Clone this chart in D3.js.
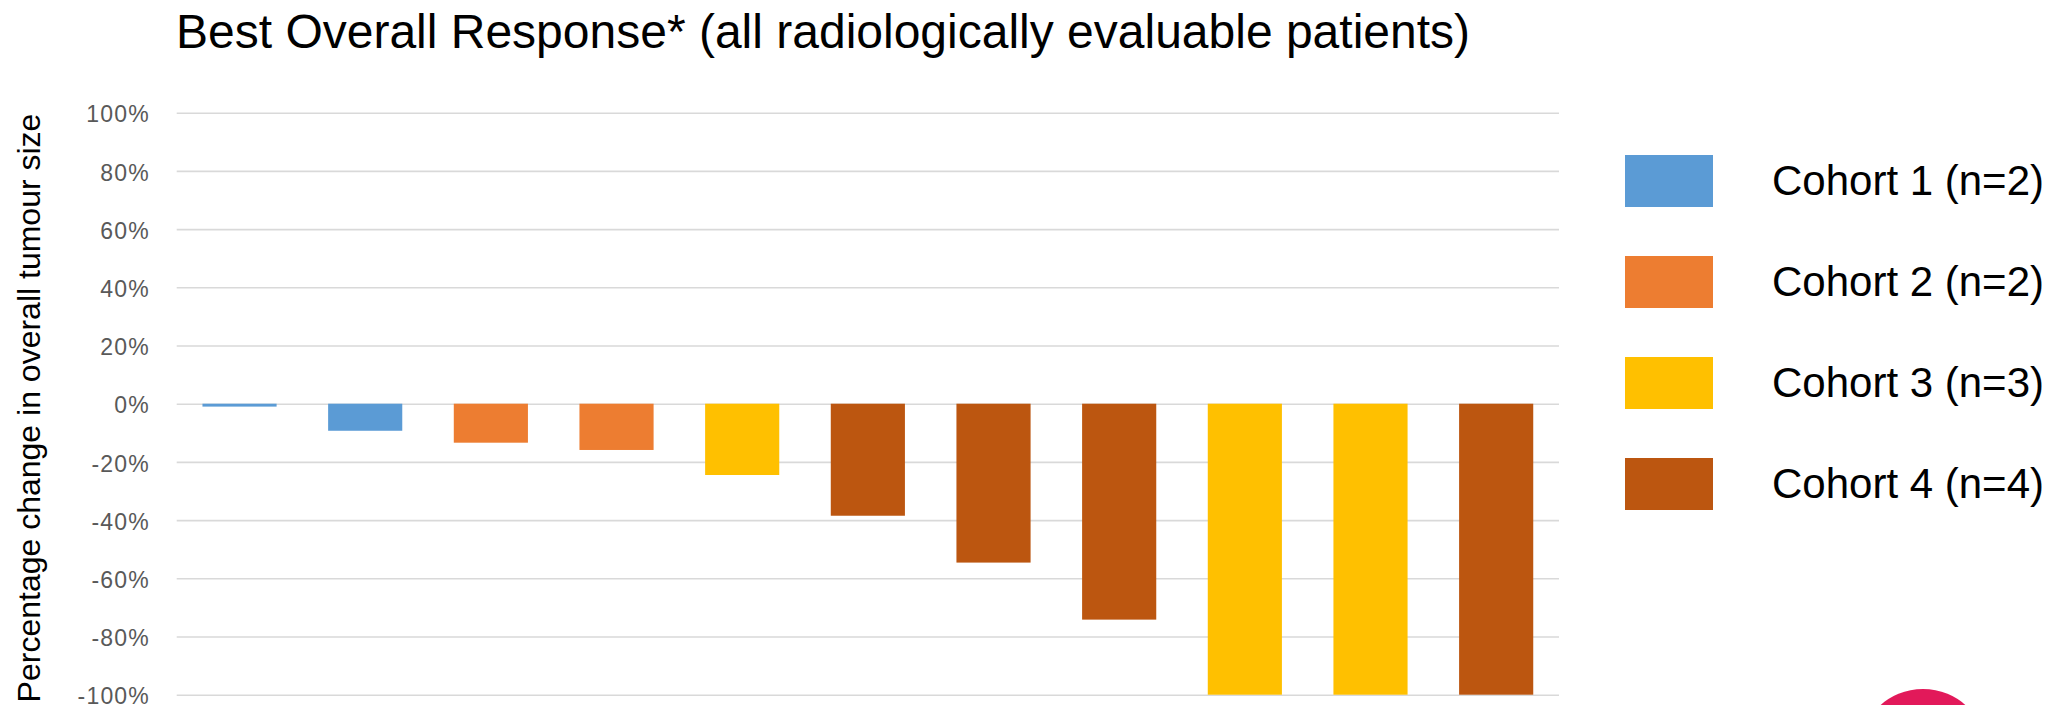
<!DOCTYPE html>
<html>
<head>
<meta charset="utf-8">
<script src="https://cdn.jsdelivr.net/npm/d3@7"></script>
<style>
  html, body { margin: 0; padding: 0; background: #fff; }
  svg { display: block; }
</style>
</head>
<body>
<svg id="chart" width="2069" height="705"></svg>
<script>
// Daten: Patienten (Reihenfolge wie im Bild) und ihre Kohorte
const patients = ["P1", "P2", "P3", "P4", "P5", "P6", "P7", "P8", "P9", "P10", "P11"];
const changes = [-0.01, -0.093, -0.134, -0.159, -0.245, -0.385, -0.546, -0.742, -1.0, -1.0, -1.0];
const cohortOf = [0, 0, 1, 1, 2, 3, 3, 3, 2, 2, 3];

const cohorts = ["Cohort 1 (n=2)", "Cohort 2 (n=2)", "Cohort 3 (n=3)", "Cohort 4 (n=4)"];
const cohortColors = ["#5B9BD5", "#ED7D31", "#FFC000", "#BC5610"];

const yTicks = [-1, -0.8, -0.6, -0.4, -0.2, 0, 0.2, 0.4, 0.6, 0.8, 1];

const svg = d3.select("#chart");
const font = "'Liberation Sans', Arial, sans-serif";

// Skalen
const left = 176.7, right = 1559;
const x = d3.scaleBand()
  .domain(patients)
  .range([left, right])
  .paddingInner(0.41)
  .paddingOuter(0.205);

const y = d3.scaleLinear()
  .domain([-1, 1])
  .range([694.7, 112.7]);

const color = d3.scaleOrdinal().domain(d3.range(cohorts.length)).range(cohortColors);

// Titel
svg.append("text")
  .attr("x", 176)
  .attr("y", 48)
  .attr("font-family", font)
  .attr("font-size", 48)
  .attr("fill", "#000")
  .text("Best Overall Response* (all radiologically evaluable patients)");

// y-Achse mit Gitterlinien
const yAxis = svg.append("g")
  .attr("transform", `translate(${left},0)`)
  .call(d3.axisLeft(y)
    .tickValues(yTicks)
    .tickSize(-(right - left))
    .tickPadding(left - 150)
    .tickFormat(d => Math.round(d * 100) + "%"));

yAxis.select(".domain").remove();
yAxis.selectAll(".tick line")
  .attr("stroke", "#D9D9D9")
  .attr("stroke-width", 1.6);
yAxis.selectAll(".tick text")
  .attr("font-family", font)
  .attr("font-size", 23)
  .attr("letter-spacing", 1.2)
  .attr("fill", "#595959")
  .attr("dy", "0.4em");

// Achsentitel
svg.append("text")
  .attr("transform", `translate(40,408) rotate(-90)`)
  .attr("text-anchor", "middle")
  .attr("font-family", font)
  .attr("font-size", 32)
  .attr("fill", "#000")
  .text("Percentage change in overall tumour size");

// Balken
svg.append("g")
  .selectAll("rect")
  .data(patients)
  .join("rect")
  .attr("x", d => x(d))
  .attr("y", (d, i) => y(Math.max(0, changes[i])))
  .attr("width", x.bandwidth())
  .attr("height", (d, i) => Math.abs(y(changes[i]) - y(0)))
  .attr("fill", (d, i) => color(cohortOf[i]));

// Legende
const legend = svg.append("g")
  .selectAll("g")
  .data(cohorts)
  .join("g")
  .attr("transform", (d, i) => `translate(1625,${155 + i * 101})`);

legend.append("rect")
  .attr("width", 88)
  .attr("height", 52)
  .attr("fill", (d, i) => cohortColors[i]);

legend.append("text")
  .attr("x", 147)
  .attr("y", 40)
  .attr("font-family", font)
  .attr("font-size", 42)
  .attr("fill", "#000")
  .text(d => d);

// Logo-Anschnitt unten rechts
svg.append("circle")
  .attr("cx", 1923)
  .attr("cy", 753)
  .attr("r", 64)
  .attr("fill", "#E2195A");
</script>
</body>
</html>
